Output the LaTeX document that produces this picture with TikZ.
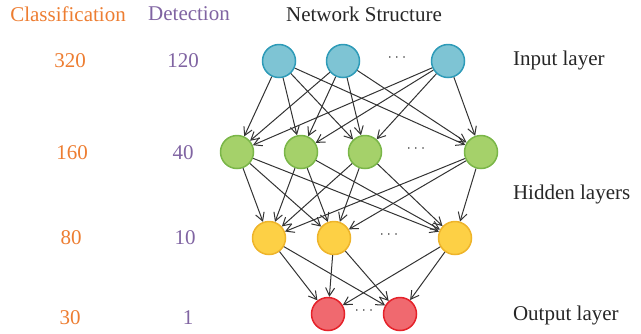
\documentclass[tikz,border=0pt]{standalone}
\usepackage{fontspec}
\setmainfont{Liberation Serif}
\usetikzlibrary{arrows.meta,positioning}

\definecolor{clsorange}{HTML}{ED7D31}
\definecolor{detpurple}{HTML}{8064A2}
\definecolor{infill}{HTML}{7EC4D4}
\definecolor{indraw}{HTML}{2E9BB8}
\definecolor{hidfill}{HTML}{A5D16A}
\definecolor{hiddraw}{HTML}{7AB648}
\definecolor{midfill}{HTML}{FDD045}
\definecolor{middraw}{HTML}{EEB42A}
\definecolor{outfill}{HTML}{F0696F}
\definecolor{outdraw}{HTML}{E5222A}

\begin{document}
\begin{tikzpicture}[
  x=0.5pt, y=-0.5pt,
  font=\fontsize{10.5}{12}\selectfont, >={Straight Barb[length=4pt,width=4.5pt]},
  unit/.style={circle, minimum size=16.5pt, inner sep=0pt, line width=0.75pt},
  inunit/.style={unit, draw=indraw, fill=infill},
  hidunit/.style={unit, draw=hiddraw, fill=hidfill},
  midunit/.style={unit, draw=middraw, fill=midfill},
  outunit/.style={unit, draw=outdraw, fill=outfill},
  link/.style={->, draw=black!80, line width=0.5pt},
  gap/.style={font=\fontsize{6.5}{8}\selectfont, text=black},
  cls/.style={text=clsorange},
  det/.style={text=detpurple},
  layer/.style={anchor=west, text=black!85}
]
\useasboundingbox (0,0) rectangle (641,333);

% column headers
\node[cls] (hcls) at (68,14) {Classification};
\node[det] (hdet) at (189,14) {Detection};
\node[text=black!85] (hnet) at (364,14) {Network Structure};

% layer sizes
\node[cls] (c1) at (70,61) {320};
\node[cls] (c2) at (72,153) {160};
\node[cls] (c3) at (71,238) {80};
\node[cls] (c4) at (70,318) {30};
\node[det] (d1) at (183,61) {120};
\node[det] (d2) at (183,153) {40};
\node[det] (d3) at (185,238) {10};
\node[det] (d4) at (188,318) {1};

% units
\node[inunit] (i1) at (279,61) {};
\node[inunit] (i2) at (343,61) {};
\node[inunit] (i3) at (448,61) {};
\node[gap] (idots) at (397,58) {$\cdots$};

\node[hidunit] (h1) at (237,152) {};
\node[hidunit] (h2) at (301,152) {};
\node[hidunit] (h3) at (365,152) {};
\node[hidunit] (h4) at (481,152) {};
\node[gap] (hdots) at (416,149) {$\cdots$};

\node[midunit] (m1) at (269,238) {};
\node[midunit] (m2) at (334,238) {};
\node[midunit] (m3) at (455,238) {};
\node[gap] (mdots) at (389,235) {$\cdots$};

\node[outunit] (o1) at (328,314) {};
\node[outunit] (o2) at (400,314) {};
\node[gap] (odots) at (364,311) {$\cdots$};

% full connections
\foreach \a in {i1,i2,i3}
  \foreach \b in {h1,h2,h3,h4}
    \draw[link] (\a) -- (\b);
\foreach \a in {h1,h2,h3,h4}
  \foreach \b in {m1,m2,m3}
    \draw[link] (\a) -- (\b);
\foreach \a in {m1,m2,m3}
  \foreach \b in {o1,o2}
    \draw[link] (\a) -- (\b);

% layer names
\node[layer] (lin) at (506,60) {Input layer};
\node[layer] (lhid) at (506,194) {Hidden layers};
\node[layer] (lout) at (506,315) {Output layer};
\end{tikzpicture}
\end{document}
